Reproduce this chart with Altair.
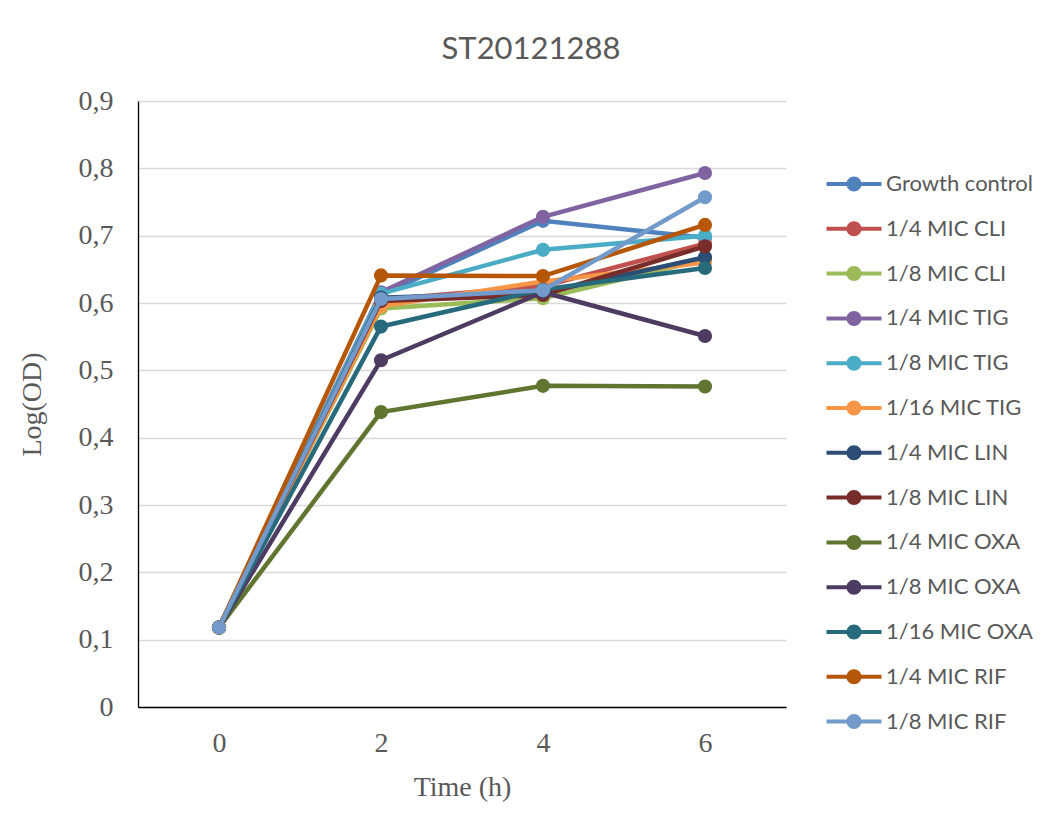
import altair as alt
import pandas as pd

times = [0, 2, 4, 6]
series = [
    "Growth control", "1/4 MIC CLI", "1/8 MIC CLI", "1/4 MIC TIG", "1/8 MIC TIG",
    "1/16 MIC TIG", "1/4 MIC LIN", "1/8 MIC LIN", "1/4 MIC OXA", "1/8 MIC OXA",
    "1/16 MIC OXA", "1/4 MIC RIF", "1/8 MIC RIF",
]
colors = [
    "#4F81BD", "#C0504D", "#9BBB59", "#8064A2", "#4BACC6",
    "#F79646", "#2C4D75", "#772C2A", "#5F7530", "#4D3B62",
    "#276A7C", "#B65708", "#729ACA",
]
growth_control = [0.118, 0.612, 0.722, 0.697]
mic_cli_4 = [0.118, 0.605, 0.625, 0.688]
mic_cli_8 = [0.118, 0.592, 0.607, 0.665]
mic_tig_4 = [0.118, 0.616, 0.728, 0.793]
mic_tig_8 = [0.118, 0.614, 0.679, 0.700]
mic_tig_16 = [0.118, 0.595, 0.632, 0.660]
mic_lin_4 = [0.118, 0.608, 0.615, 0.668]
mic_lin_8 = [0.118, 0.603, 0.612, 0.684]
mic_oxa_4 = [0.118, 0.438, 0.477, 0.476]
mic_oxa_8 = [0.118, 0.515, 0.616, 0.551]
mic_oxa_16 = [0.118, 0.565, 0.620, 0.652]
mic_rif_4 = [0.118, 0.641, 0.640, 0.716]
mic_rif_8 = [0.118, 0.606, 0.619, 0.757]
y_ticks = [0, 0.1, 0.2, 0.3, 0.4, 0.5, 0.6, 0.7, 0.8, 0.9]

values = [growth_control, mic_cli_4, mic_cli_8, mic_tig_4, mic_tig_8, mic_tig_16,
          mic_lin_4, mic_lin_8, mic_oxa_4, mic_oxa_8, mic_oxa_16, mic_rif_4, mic_rif_8]

rows = []
for name, vals in zip(series, values):
    for t, v in zip(times, vals):
        rows.append({"series": name, "time": t, "od": v})
df = pd.DataFrame(rows)

GRAY = "#595959"
SERIF = "Liberation Serif"
SANS = "Lato"

legend_path = ("M-3,-0.22 H3 V0.22 H-3 Z "
               "M-0.82,0 A0.82,0.82 0 1,1 0.82,0 A0.82,0.82 0 1,1 -0.82,0 Z")

color_scale = alt.Scale(domain=series, range=colors)
legend = alt.Legend(
    title=None,
    orient="none",
    legendX=705,
    legendY=72,
    padding=0,
    symbolType=legend_path,
    symbolSize=336,
    symbolStrokeWidth=0,
    symbolOpacity=1,
    labelFont=SANS,
    labelFontSize=22,
    labelColor=GRAY,
    labelOffset=21,
    labelLimit=400,
    rowPadding=22.8,
)
color_enc = alt.Color("series:N", scale=color_scale, legend=legend)

x_enc = alt.X(
    "time:O",
    scale=alt.Scale(type="point", padding=0.5),
    axis=alt.Axis(
        title="Time (h)", labelAngle=0, ticks=False, grid=False,
        domainColor="#000000", domainWidth=1.3,
        labelFont=SERIF, labelFontSize=28, labelColor=GRAY, labelPadding=22,
        titleFont=SERIF, titleFontSize=28, titleColor=GRAY, titleFontWeight="normal",
        titleX=324, titleY=88, titleBaseline="alphabetic", titleAlign="center",
    ),
)
y_enc = alt.Y(
    "od:Q",
    scale=alt.Scale(domain=[0, 0.9], nice=False),
    axis=alt.Axis(
        title="Log(OD)", values=y_ticks, ticks=False,
        labelExpr="datum.value == 0 ? '0' : replace(format(datum.value, '.1f'), '.', ',')",
        domainColor="#000000", domainWidth=1.3,
        gridColor="#D9D9D9", gridWidth=1.3,
        labelFont=SERIF, labelFontSize=28, labelColor=GRAY, labelPadding=25,
        titleFont=SERIF, titleFontSize=28, titleColor=GRAY, titleFontWeight="normal",
        titleX=-98, titleY=303, titleAngle=-90, titleBaseline="alphabetic", titleAlign="center",
    ),
)

layers = []
for name in series:
    base = alt.Chart(df).transform_filter(alt.datum.series == name)
    layers.append(base.mark_line(strokeWidth=4.5).encode(x=x_enc, y=y_enc, color=color_enc))
    layers.append(base.mark_point(filled=True, size=200, opacity=1).encode(x=x_enc, y=y_enc, color=color_enc))

chart = alt.layer(*layers).properties(
    width=648,
    height=606,
    background="white",
    title=alt.TitleParams(
        text="ST20121288", font=SANS, fontSize=31, color=GRAY, fontWeight="normal",
        anchor="middle", dx=69, offset=21,
    ),
    autosize=alt.AutoSizeParams(type="none"),
    padding={"left": 130, "top": 93, "right": 265, "bottom": 117},
).configure_view(stroke=None)

chart.save("out.html", embed_options={"renderer": "svg", "actions": False})
